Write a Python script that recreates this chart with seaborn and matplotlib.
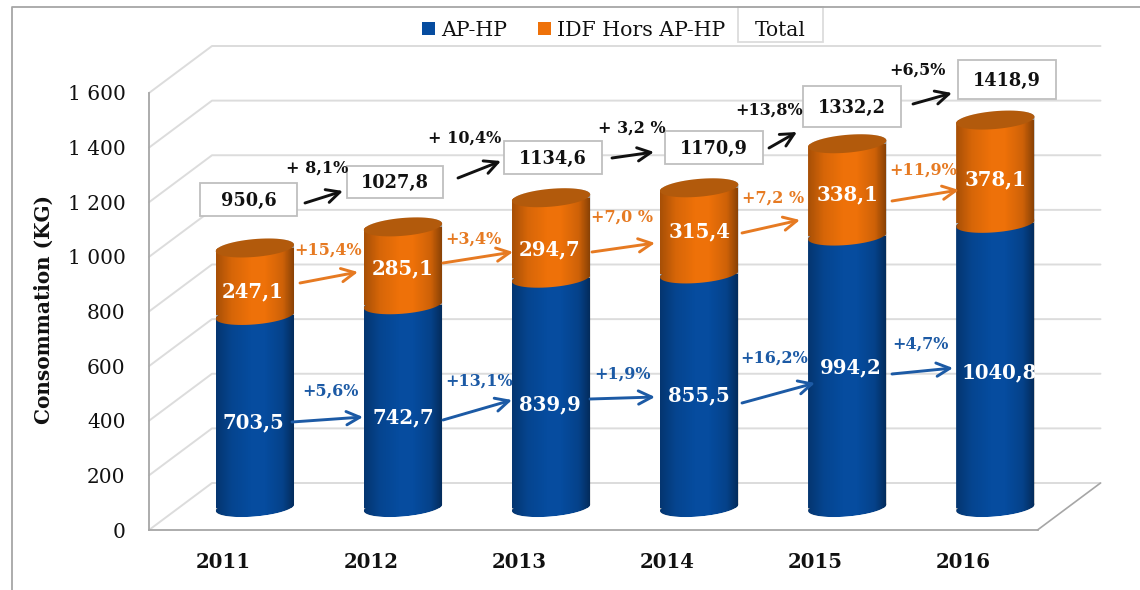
# Importing
import matplotlib.pyplot as plt
import matplotlib.transforms as mtrans
from matplotlib.lines import Line2D
from matplotlib.patches import Polygon, Rectangle
import numpy as np
import seaborn as sns

# Data
years = [2011, 2012, 2013, 2014, 2015, 2016]
ap_hp = [703.5, 742.7, 839.9, 855.5, 994.2, 1040.8]
idf_hors = [247.1, 285.1, 294.7, 315.4, 338.1, 378.1]
total = [950.6, 1027.8, 1134.6, 1170.9, 1332.2, 1418.9]
ap_labels = ['703,5', '742,7', '839,9', '855,5', '994,2', '1040,8']
idf_labels = ['247,1', '285,1', '294,7', '315,4', '338,1', '378,1']
total_labels = ['950,6', '1027,8', '1134,6', '1170,9', '1332,2', '1418,9']
ap_growth = ['+5,6%', '+13,1%', '+1,9%', '+16,2%', '+4,7%']
idf_growth = ['+15,4%', '+3,4%', '+7,0 %', '+7,2 %', '+11,9%']
total_growth = ['+ 8,1%', '+ 10,4%', '+ 3,2 %', '+13,8%', '+6,5%']
y_ticks = [0, 200, 400, 600, 800, 1000, 1200, 1400, 1600]
y_tick_labels = ['0', '200', '400', '600', '800', '1 000', '1 200', '1 400', '1 600']

# Colours
BLUE = '#064C9F'
ORANGE = '#EE7109'
CAP = '#B25A0C'
BLUE_TXT = '#1C5AA5'
ORANGE_TXT = '#E67A22'
GRID = '#dcdcdc'
AXIS = '#a6a6a6'
INK = '#111111'

# Layout, in pixels of the 1140x590 picture
W, H = 1140, 590
LEFT, RIGHT, TOP, BOTTOM = 149, 1037.5, 93, 530
PX_X = (RIGHT - LEFT) / 6
PX_Y = (BOTTOM - TOP) / 1600
WALL_X, WALL_Y = 63 / PX_X, 47 / PX_Y  # depth of the fake 3D box
BASE = 82  # cylinders stand inside the floor
BAR_SHIFT = 0.215
BAR_W = 0.529
A, B, TILT = 39.3, 8.9, np.radians(5)

ap_txt_xy = [(253, 422), (403, 417), (550, 404), (699, 395), (851, 367), (999, 372)]
idf_txt_xy = [(253, 291), (403, 268), (550, 249), (699, 231), (847, 194), (996, 179)]
boxes = [(200, 183, 297, 216), (347, 166, 443, 198), (504, 141, 602, 174),
         (665, 131, 763, 164), (803, 86, 901, 127), (958, 60, 1056, 99)]
total_pct_xy = [(317, 168), (465, 138), (632, 128), (769, 110), (917, 70)]
idf_pct_xy = [(328, 250), (473, 239), (622, 217), (773, 198), (923, 170)]
ap_pct_xy = [(330, 391), (479, 381), (623, 374), (774, 358), (920, 344)]
total_arrows = [(305, 203, 343, 191), (458, 178, 501, 161), (612, 158, 654, 152),
                (769, 148, 797, 132), (913, 104, 952, 93)]
idf_arrows = [(300, 283, 358, 272), (443, 263, 513, 252), (592, 252, 655, 243),
              (742, 233, 800, 220), (892, 201, 959, 190)]
ap_arrows = [(292, 422, 363, 417), (443, 420, 512, 400), (590, 399, 655, 397),
             (742, 403, 815, 383), (892, 374, 953, 368)]


def arc(cx, cy, t0, t1):
    # part of a tilted ellipse, given in px around a point in data units
    t = np.linspace(t0, t1, 60)
    u = A * np.cos(t) * np.cos(TILT) - B * np.sin(t) * np.sin(TILT)
    v = A * np.cos(t) * np.sin(TILT) + B * np.sin(t) * np.cos(TILT)
    return cx + u / PX_X, cy + v / PX_Y


def silhouette(cx, low, high):
    x1, y1 = arc(cx, low, np.pi, 2 * np.pi)
    x2, y2 = arc(cx, high, 0, np.pi)
    pts = np.column_stack([np.r_[x1, x2], np.r_[y1, y2]])
    return Polygon(pts, closed=True, transform=ax.transData)


# Main
sns.set_style('white')
plt.rcParams['font.family'] = ['DejaVu Serif']
plt.rcParams['text.color'] = INK
plt.rcParams['xtick.labelcolor'] = INK
plt.rcParams['ytick.labelcolor'] = INK
plt.rcParams['axes.labelcolor'] = INK

fig = plt.figure(figsize=(W / 100, H / 100), dpi=100)
ax = fig.add_axes([LEFT / W, 1 - BOTTOM / H, (RIGHT - LEFT) / W, (BOTTOM - TOP) / H])
px = mtrans.Affine2D().scale(1 / W, -1 / H).translate(0, 1) + fig.transFigure

# Stacked bars
bar_x = [y + BAR_SHIFT for y in years]
stack_base = [BASE + v for v in ap_hp]
stack_top = [BASE + v for v in total]
sns.barplot(x=bar_x, y=ap_hp, native_scale=True, width=BAR_W, color=BLUE, saturation=1,
            bottom=BASE, errorbar=None, linewidth=0, zorder=3, ax=ax)
sns.barplot(x=bar_x, y=idf_hors, native_scale=True, width=BAR_W, color=ORANGE, saturation=1,
            bottom=stack_base, errorbar=None, linewidth=0, zorder=3, ax=ax)
blue_bars = ax.patches[:6]
orange_bars = ax.patches[6:12]

# Round ends and shading of the cylinders
shade = np.zeros((1, 200, 4))
pos = np.linspace(0, 1, 200)
shade[0, :, 3] = np.interp(pos, [0, 0.2, 0.45, 0.62, 0.85, 1], [0.3, 0.1, 0, 0, 0.14, 0.45])
for i, cx in enumerate(bar_x):
    blue_bars[i].set_clip_path(silhouette(cx, BASE, stack_base[i]))
    orange_bars[i].set_clip_path(silhouette(cx, stack_base[i], stack_top[i]))
    whole = silhouette(cx, BASE, stack_top[i])
    ex, ey = arc(cx, BASE, 0, 2 * np.pi)
    ax.fill(ex, ey, color=BLUE, lw=0, zorder=3)[0].set_clip_path(whole)
    ex, ey = arc(cx, stack_base[i], 0, 2 * np.pi)
    ax.fill(ex, ey, color=ORANGE, lw=0, zorder=3.5)[0].set_clip_path(whole)
    im = ax.imshow(shade, extent=(cx - BAR_W / 2, cx + BAR_W / 2, 0, 1600), aspect='auto', zorder=4)
    im.set_clip_path(whole)
    ex, ey = arc(cx, stack_top[i], 0, 2 * np.pi)
    ax.fill(ex, ey, color=CAP, lw=0, zorder=5)

# Axes
ax.set_xlim(years[0] - 0.5, years[-1] + 0.5)
ax.set_ylim(0, 1600)
sns.despine(ax=ax)
for side in ['left', 'bottom']:
    ax.spines[side].set_color(AXIS)
    ax.spines[side].set_linewidth(1.3)
    ax.spines[side].set_zorder(2)
edges = [y - 0.5 for y in years] + [years[-1] + 0.5]
ax.set_xticks(edges, [''] * len(edges))
ax.set_xticks(years, [str(y) for y in years], minor=True)
ax.tick_params(axis='x', which='major', length=5, width=1.2, color=AXIS)
ax.tick_params(axis='x', which='minor', length=0, pad=16, labelsize=14.2)
for lab in ax.get_xticklabels(minor=True):
    lab.set_fontweight('bold')
ax.set_yticks(y_ticks, y_tick_labels)
ax.tick_params(axis='y', length=5.8, width=1.2, color=AXIS, pad=11, labelsize=14.5)
ax.set_xlabel('')
ax.set_ylabel('Consommation (KG)', fontsize=14.4, fontweight='bold')
ax.yaxis.set_label_coords((54 - LEFT) / (RIGHT - LEFT), (BOTTOM - 309) / (BOTTOM - TOP))

# Back wall and floor of the box
x0, x1 = edges[0], edges[-1]
for v in y_ticks:
    ax.plot([x0, x0 + WALL_X, x1 + WALL_X], [v, v + WALL_Y, v + WALL_Y], color=GRID, lw=1.4,
            clip_on=False, zorder=1)
ax.plot([x1, x1 + WALL_X], [0, WALL_Y], color=AXIS, lw=1.2, clip_on=False, zorder=1.5)

# Value labels inside the bars
for lab, xy in zip(ap_labels, ap_txt_xy):
    ax.text(xy[0], xy[1], lab, transform=px, color='white', fontsize=14.2, fontweight='bold',
            ha='center', va='center', zorder=8, clip_on=False)
for lab, xy in zip(idf_labels, idf_txt_xy):
    ax.text(xy[0], xy[1], lab, transform=px, color='white', fontsize=14.2, fontweight='bold',
            ha='center', va='center', zorder=8, clip_on=False)

# Total boxes
for lab, b in zip(total_labels, boxes):
    ax.add_patch(Rectangle((b[0], b[1]), b[2] - b[0], b[3] - b[1], transform=px, fc='white',
                           ec='#bfbfbf', lw=1.3, zorder=6, clip_on=False))
    ax.text((b[0] + b[2]) / 2, (b[1] + b[3]) / 2 + 1, lab, transform=px, color=INK,
            fontsize=12.8, fontweight='bold', ha='center', va='center', zorder=8)

# Growth labels and arrows
for labels, places, arrows, col in [(total_growth, total_pct_xy, total_arrows, INK),
                                    (idf_growth, idf_pct_xy, idf_arrows, ORANGE_TXT),
                                    (ap_growth, ap_pct_xy, ap_arrows, BLUE_TXT)]:
    for lab, xy, arr in zip(labels, places, arrows):
        ax.text(xy[0], xy[1], lab, transform=px, color=col, fontsize=11.5, fontweight='bold',
                ha='center', va='center', zorder=8)
        ax.annotate('', xy=(arr[2], arr[3]), xytext=(arr[0], arr[1]), xycoords=px, textcoords=px,
                    annotation_clip=False, zorder=7,
                    arrowprops=dict(arrowstyle='->', color=col, lw=2.1, mutation_scale=24,
                                    shrinkA=0, shrinkB=0))

# Legend
handles = [Rectangle((0, 0), 1, 1, color=BLUE, lw=0), Rectangle((0, 0), 1, 1, color=ORANGE, lw=0)]
ax.add_patch(Rectangle((380, 4), 358, 40, transform=px, fc='white', ec='none', zorder=2, clip_on=False))
leg = ax.legend(handles, ['AP-HP', 'IDF Hors AP-HP'], ncol=2, loc='center left', frameon=False,
                bbox_to_anchor=(422, 30), bbox_transform=px, fontsize=14.8, borderpad=0, borderaxespad=0,
                handlelength=0.63, handleheight=0.63, handletextpad=0.3, columnspacing=1.5)
ax.add_patch(Rectangle((738, 7), 85, 35, transform=px, fc='white', ec=GRID, lw=1.3, zorder=2, clip_on=False))
ax.text(780, 30, 'Total', transform=px, fontsize=14.6, ha='center', va='center', zorder=8)

# Outer frame of the picture
fig.add_artist(Line2D([12, 12, W], [H, 7, 7], transform=px, color=AXIS, lw=1.3))

plt.savefig('out.png', dpi=100)
